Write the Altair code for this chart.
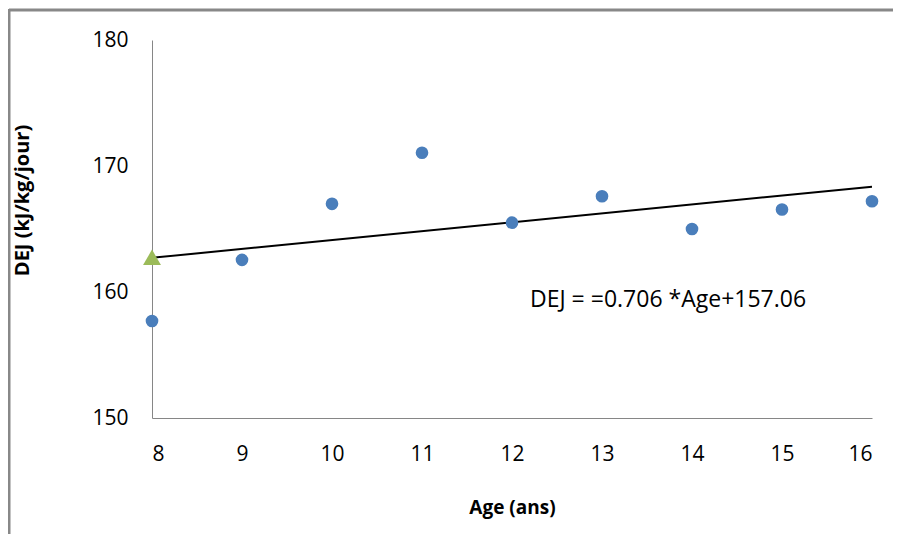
import altair as alt
import pandas as pd

ages = [8, 9, 10, 11, 12, 13, 14, 15, 16]
dej = [157.7, 162.55, 167.0, 171.05, 165.5, 167.6, 165.0, 166.55, 167.2]
trend_x = [8, 16]
trend_y = [162.71, 168.36]
tri_x = [8]
tri_y = [162.75]
eq_text = "DEJ = =0.706 *Age+157.06"
eq_pos = (12.2, 159.4)

pts = pd.DataFrame({"Age": ages, "DEJ": dej})
trend = pd.DataFrame({"Age": trend_x, "DEJ": trend_y})
tri = pd.DataFrame({"Age": tri_x, "DEJ": tri_y})
eq = pd.DataFrame({"Age": [eq_pos[0]], "DEJ": [eq_pos[1]], "t": [eq_text]})

FONT = "Open Sans"

xs = alt.Scale(domain=[8, 16], nice=False, zero=False)
ys = alt.Scale(domain=[150, 180], nice=False, zero=False)

xax = alt.Axis(values=ages, format="d", title="Age (ans)", grid=False, ticks=False,
               domainColor="#868686", labelFontSize=21, labelFont=FONT,
               labelColor="#000", labelPadding=25, titleFontSize=19,
               titleFont=FONT, titleFontWeight="bold", titlePadding=34,
               titleColor="#000")
yax = alt.Axis(values=[150, 160, 170, 180], format="d", title="DEJ (kJ/kg/jour)", grid=False,
               ticks=False, domainColor="#868686", labelFontSize=21,
               labelFont=FONT, labelColor="#000", labelPadding=24,
               titleFontSize=20, titleFont=FONT, titleFontWeight="bold",
               titleColor="#000", titleX=-120, titleY=160)

base_x = alt.X("Age:Q", scale=xs, axis=xax)
base_y = alt.Y("DEJ:Q", scale=ys, axis=yax)

line = alt.Chart(trend).mark_line(color="#000", strokeWidth=2).encode(x=base_x, y=base_y)
points = alt.Chart(pts).mark_circle(color="#4a7ebb", opacity=1, size=160).encode(
    x=alt.X("Age:Q", scale=xs), y=alt.Y("DEJ:Q", scale=ys))
triangle = alt.Chart(tri).mark_point(shape="triangle-up", filled=True, color="#9bbb59",
                                     opacity=1, size=320).encode(
    x=alt.X("Age:Q", scale=xs), y=alt.Y("DEJ:Q", scale=ys))
label = alt.Chart(eq).mark_text(align="left", baseline="middle", fontSize=23,
                                font=FONT, color="#000").encode(
    x=alt.X("Age:Q", scale=xs), y=alt.Y("DEJ:Q", scale=ys), text="t:N")

frame_top = alt.Chart(pd.DataFrame({"a": [0]})).mark_rule(color="#888888", strokeWidth=3).encode(
    x=alt.value(-143), x2=alt.value(741), y=alt.value(-30))
frame_left = alt.Chart(pd.DataFrame({"a": [0]})).mark_rule(color="#888888", strokeWidth=3).encode(
    x=alt.value(-143), y=alt.value(-31), y2=alt.value(506))

chart = alt.layer(frame_top, frame_left, line, points, triangle, label).properties(
    width=720, height=378,
    padding={"left": 144, "top": 32, "right": 21, "bottom": 116},
    autosize=alt.AutoSizeParams(type="none"),
    background="white",
).configure_view(stroke=None)

chart.save("out.html", embed_options={"renderer": "svg", "actions": False})
